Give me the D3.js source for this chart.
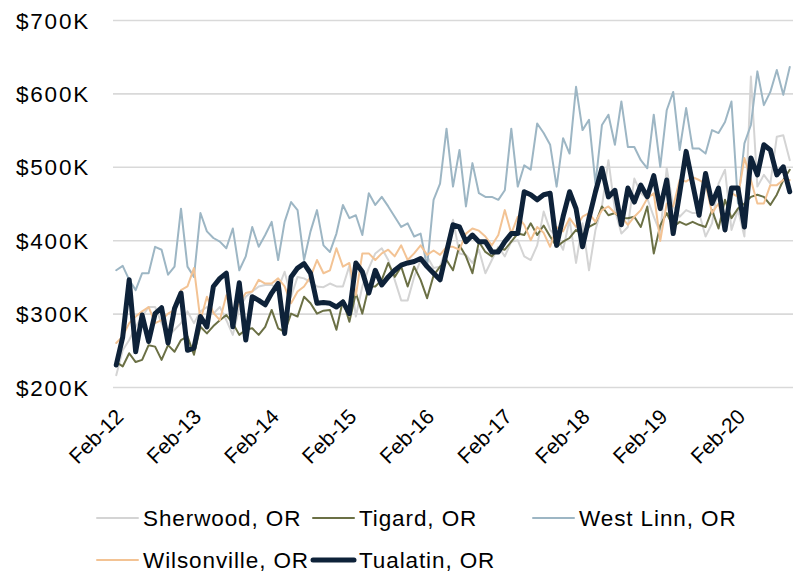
<!DOCTYPE html>
<html><head><meta charset="utf-8">
<script src="https://cdn.jsdelivr.net/npm/d3@7"></script>
<style>
html,body{margin:0;padding:0;background:#fff;}
svg{display:block;}
text{font-family:"Liberation Sans",Arial,sans-serif;fill:#000;}
</style></head>
<body><svg id="chart" width="793" height="574"></svg>
<script>
// Categories: monthly, Feb-2012 .. Oct-2020
const months = d3.utcMonth.range(new Date(Date.UTC(2012,1,1)), new Date(Date.UTC(2020,10,1)));
const tickLabels = ["Feb-12","Feb-13","Feb-14","Feb-15","Feb-16","Feb-17","Feb-18","Feb-19","Feb-20"];
const yTicks = [200,300,400,500,600,700]; // $K

const seriesNames = ["Sherwood, OR","Tigard, OR","West Linn, OR","Wilsonville, OR","Tualatin, OR"];

const sherwood = [216,250,264,282,296,309,309,287,269,278,287,303,287,303,309,300,309,291,271,307,323,330,337,339,339,334,357,323,350,348,343,337,336,341,337,337,365,296,337,362,382,389,373,346,318,318,350,373,378,362,364,391,428,382,380,369,387,355,373,391,378,398,400,378,373,393,439,414,405,387,428,369,423,359,414,446,509,441,409,418,484,464,457,432,410,498,446,432,441,437,437,405,423,477,496,414,441,405,623,473,489,477,541,543,509];
const tigard = [234,228,246,234,237,257,255,237,257,248,264,269,244,282,273,283,291,298,287,271,278,280,271,282,305,280,275,300,296,323,314,300,304,305,278,318,289,328,300,337,337,346,369,350,364,337,364,346,321,352,364,373,359,393,378,355,398,384,378,389,387,398,409,407,423,407,420,405,391,398,403,414,407,418,423,446,434,437,430,430,432,418,446,382,420,437,418,425,421,425,421,418,441,416,455,430,443,450,459,462,459,448,462,482,496];
const westLinn = [359,365,346,332,355,355,391,387,353,364,443,364,350,437,412,403,398,389,416,359,378,418,391,407,425,373,425,452,441,373,412,441,393,384,409,448,430,434,407,464,448,459,446,432,418,423,405,409,364,455,477,552,473,523,446,505,464,459,459,455,468,552,473,502,496,559,546,530,473,539,518,609,550,564,477,557,571,530,589,527,527,509,498,571,500,577,602,523,580,525,525,518,550,546,561,589,450,532,557,630,584,602,632,598,636];
const wilsonville = [260,269,287,296,303,309,287,291,300,305,332,337,362,291,323,301,291,325,296,314,328,330,346,341,341,348,337,314,330,337,350,373,355,359,389,364,369,325,382,382,373,382,387,378,393,373,382,393,380,386,380,391,391,387,409,416,413,405,393,407,441,409,432,421,400,418,410,391,418,412,430,418,432,437,425,441,446,437,432,421,432,441,457,464,399,450,446,482,480,486,482,477,437,450,412,464,459,512,482,450,450,475,475,482,482];
const tualatin = [230,268,346,248,298,262,300,308,260,307,328,250,253,296,282,337,348,355,282,342,264,323,318,312,328,341,273,350,362,368,355,314,315,314,309,316,300,369,357,328,359,339,350,359,366,369,371,375,364,355,346,384,421,418,398,407,398,398,384,384,398,409,409,466,462,455,462,464,393,432,466,443,391,430,466,498,459,468,421,471,452,475,459,488,443,482,409,464,521,477,434,491,450,471,414,471,471,418,512,489,530,523,489,500,466];

const seriesValues = [sherwood, tigard, westLinn, wilsonville, tualatin];
const seriesColors = ["#D4D4D4","#6B7045","#9DB6C4","#F3C394","#0E2239"];
const seriesWidths = [2,2,2,2,5];

const svg = d3.select("#chart");
const plotLeft = 113, plotRight = 793, plotTop = 20, plotBottom = 387;

const fmtMonth = d3.utcFormat("%b-%y");
const x = d3.scalePoint().domain(months.map(fmtMonth)).range([plotLeft, plotRight]).padding(0.5);
const y = d3.scaleLinear().domain([200,700]).range([plotBottom, plotTop]);

// Y axis with gridlines
const yAxis = svg.append("g").attr("transform", `translate(${plotLeft},0)`)
  .call(d3.axisLeft(y).tickValues(yTicks).tickFormat(d => "$" + d + "K")
        .tickSize(-(plotRight-plotLeft)).tickPadding(23));
yAxis.select(".domain").remove();
yAxis.selectAll(".tick line").attr("stroke", "#D9D9D9").attr("stroke-width", 1.6);
yAxis.selectAll(".tick text").style("font-size","22.5px").style("letter-spacing","1.8px")
  .attr("fill","#000").attr("dy","0.36em");

// X axis labels
const xAxis = svg.append("g").attr("transform", `translate(0,${plotBottom})`)
  .call(d3.axisBottom(x).tickValues(tickLabels).tickSize(0).tickPadding(0));
xAxis.select(".domain").remove();
xAxis.selectAll(".tick text")
  .style("font-size","21px").attr("fill","#000")
  .attr("text-anchor","end").attr("y",0).attr("dy",0)
  .attr("transform","translate(8,31) rotate(-45)");

// Lines
const line = d3.line().x((d,i) => x(fmtMonth(months[i]))).y(d => y(d));
seriesValues.forEach((vals, k) => {
  svg.append("path").datum(vals)
    .attr("fill","none").attr("stroke", seriesColors[k])
    .attr("stroke-width", seriesWidths[k])
    .attr("stroke-linejoin","round").attr("stroke-linecap","round")
    .attr("d", line);
});

// Legend
const legendPos = [[97,518],[313,518],[533,518],[97,560],[313,560]];
seriesNames.forEach((name,k) => {
  const g = svg.append("g").attr("transform", `translate(${legendPos[k][0]},${legendPos[k][1]})`);
  g.append("line").attr("x1",0).attr("x2",41).attr("y1",0).attr("y2",0)
    .attr("stroke", seriesColors[k]).attr("stroke-width", seriesWidths[k])
    .attr("stroke-linecap","round");
  g.append("text").attr("x",46).attr("y",0).attr("dy","0.36em")
    .style("font-size","22.5px").style("letter-spacing","0.9px").text(name);
});
</script></body></html>
